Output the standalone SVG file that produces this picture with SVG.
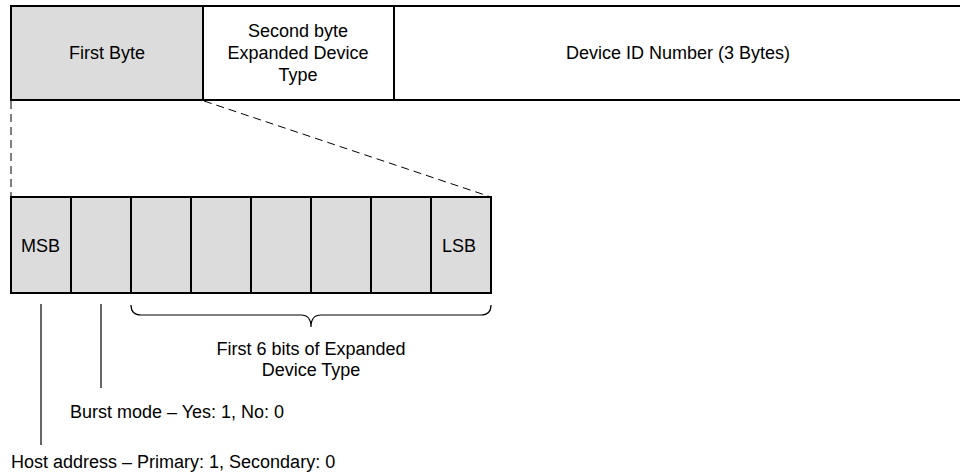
<svg xmlns="http://www.w3.org/2000/svg" width="960" height="472" viewBox="0 0 960 472">
<style>
.box{stroke:#000;stroke-width:2;}
.g{fill:#dcdcdc;}
.w{fill:#fff;}
text{font-family:"Liberation Sans",Arial,sans-serif;font-size:18px;fill:#000;}
.c{text-anchor:middle;}
.dash{stroke:#000;stroke-width:1;stroke-dasharray:8,5;fill:none;}
.ln{stroke:#000;stroke-width:1.2;fill:none;}
</style>
<rect width="960" height="472" fill="#fff"/>
<g id="first-byte"><rect class="box g" x="11" y="6" width="192" height="94"/><text class="c" x="107" y="59">First Byte</text></g>
<g id="second-byte"><rect class="box w" x="203" y="6" width="191" height="94"/><text class="c" x="298" y="37">Second byte</text><text class="c" x="298" y="59">Expanded Device</text><text class="c" x="298" y="81">Type</text></g>
<g id="device-id"><rect class="box w" x="394" y="6" width="570" height="94"/><text class="c" x="678" y="59">Device ID Number (3 Bytes)</text></g>
<g id="bits">
<rect class="box g" x="11" y="197" width="480" height="96"/>
<path class="box" d="M71 197V293M131 197V293M191 197V293M251 197V293M311 197V293M371 197V293M431 197V293" fill="none"/>
<text x="21" y="252">MSB</text>
<text x="442" y="252">LSB</text>
</g>
<g id="connectors">
<path class="dash" d="M11 101V197M204 101L491 197"/>
<path class="ln" d="M41 304V445M101 304V388"/>
<path class="ln" d="M131 305Q131 315 141 315H301Q311 315 311 327Q311 315 321 315H481Q491 315 491 305"/>
</g>
<g id="labels">
<text class="c" x="311" y="355">First 6 bits of Expanded</text>
<text class="c" x="311" y="376">Device Type</text>
<text x="70" y="418">Burst mode – Yes: 1, No: 0</text>
<text x="11" y="468">Host address – Primary: 1, Secondary: 0</text>
</g>
</svg>
